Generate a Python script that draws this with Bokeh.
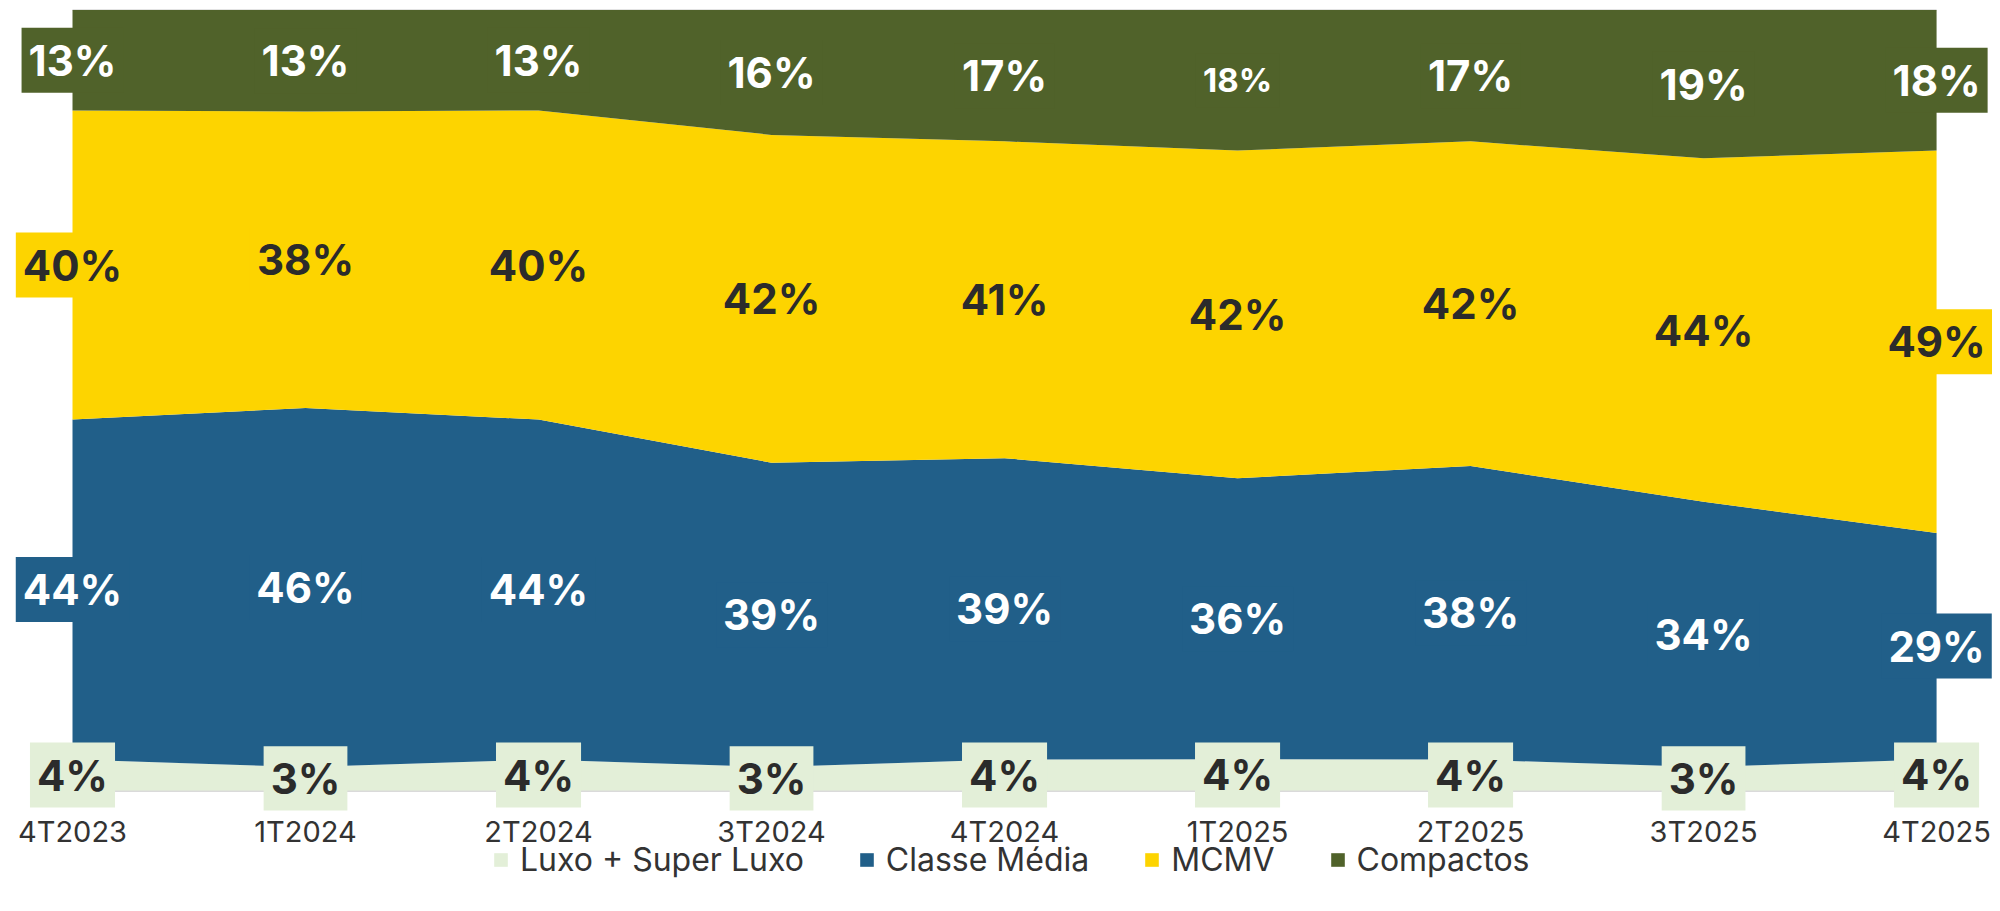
from bokeh.plotting import figure
from bokeh.models import ColumnDataSource, Range1d, Legend, LegendItem, FixedTicker
from bokeh.layouts import column
from bokeh.core.properties import value
from bokeh.embed import file_html
from bokeh.resources import INLINE
import numpy as np

categories = ["4T2023", "1T2024", "2T2024", "3T2024", "4T2024", "1T2025", "2T2025", "3T2025", "4T2025"]
luxo = [4, 3, 4, 3, 4, 4, 4, 3, 4]
classe_media = [44, 46, 44, 39, 39, 36, 38, 34, 29]
mcmv = [40, 38, 40, 42, 41, 42, 42, 44, 49]
compactos = [13, 13, 13, 16, 17, 18, 17, 19, 18]

series_names = ["Luxo + Super Luxo", "Classe Média", "MCMV", "Compactos"]
series_vals = [luxo, classe_media, mcmv, compactos]
fill_colors = ["#E3EFD8", "#215F89", "#FDD400", "#50622A"]
text_colors = ["#2B2B2B", "#FFFFFF", "#2B2B2B", "#FFFFFF"]
# label style exception seen in the reference (smaller label)
size_override = {(3, 5): "33px"}

FONT = "Inter"

x = np.arange(len(categories))
arr = np.array(series_vals, dtype=float)
shares = arr / arr.sum(axis=0) * 100.0
keys = ["s0", "s1", "s2", "s3"]
data = {"x": x}
for k, s in zip(keys, shares):
    data[k] = s
src = ColumnDataSource(data)

p = figure(frame_width=1992, frame_height=810, output_backend="svg", toolbar_location=None,
           x_range=Range1d(-0.309, 8.240), y_range=Range1d(-2.562, 101.217),
           y_axis_location=None, min_border_left=0, min_border_right=0,
           min_border_top=0, min_border_bottom=0)
p.outline_line_color = None
p.grid.visible = False

# baseline and top line
p.line(x=[x[0], x[-1]], y=[0, 0], line_color="#DADADA", line_width=3)
p.line(x=[x[0], x[-1]], y=[100, 100], line_color="#C8C8C8", line_width=1.2)

areas = p.varea_stack(keys, x="x", color=fill_colors, source=src)

# labels
cum = np.cumsum(shares, axis=0)
for i in range(4):
    mids = cum[i] - shares[i] / 2.0
    sizes = [size_override.get((i, j), "42px") for j in range(len(x))]
    lsrc = ColumnDataSource(dict(x=x, y=mids, t=[f"{v}%" for v in series_vals[i]], fs=sizes))
    p.text(x="x", y="y", text="t", source=lsrc, text_align="center", text_baseline="middle",
           text_font=value(FONT), text_font_style="bold", text_font_size="fs",
           text_color=text_colors[i], background_fill_color=fill_colors[i], padding=7)

ax = p.xaxis[0]
ax.ticker = FixedTicker(ticks=list(x))
ax.major_label_overrides = {int(i): c for i, c in zip(x, categories)}
ax.axis_line_color = None
ax.major_tick_line_color = None
ax.minor_tick_line_color = None
ax.major_tick_out = 0
ax.major_tick_in = 0
ax.major_label_standoff = 3
ax.major_label_text_font = FONT
ax.major_label_text_font_size = "29px"
ax.major_label_text_color = "#333333"

# legend figure (overlaps the bottom of the main figure slightly, transparent)
p2 = figure(frame_width=1992, frame_height=60, output_backend="svg", toolbar_location=None,
            x_range=Range1d(0, 1), y_range=Range1d(0, 1),
            x_axis_location=None, y_axis_location=None,
            min_border_left=0, min_border_right=0, min_border_top=0, min_border_bottom=0)
p2.outline_line_color = None
p2.grid.visible = False
p2.background_fill_alpha = 0
p2.border_fill_alpha = 0
p2.margin = (-12, 0, 0, 0)
dummies = [p2.varea(x=[0, 1], y1=[-5, -5], y2=[-5, -5], color=c) for c in fill_colors]

legend = Legend(items=[LegendItem(label=n, renderers=[r]) for n, r in zip(series_names, dummies)],
                orientation="horizontal", location=(492, 20), glyph_width=17, glyph_height=17,
                label_standoff=11, spacing=54, padding=0, margin=0, label_height=17,
                label_text_font=FONT, label_text_font_size="32px", label_text_color="#333333",
                border_line_color=None, background_fill_alpha=0)
p2.add_layout(legend, "center")

layout = column(p, p2, spacing=0)
open("out.html", "w").write(file_html(layout, INLINE))
